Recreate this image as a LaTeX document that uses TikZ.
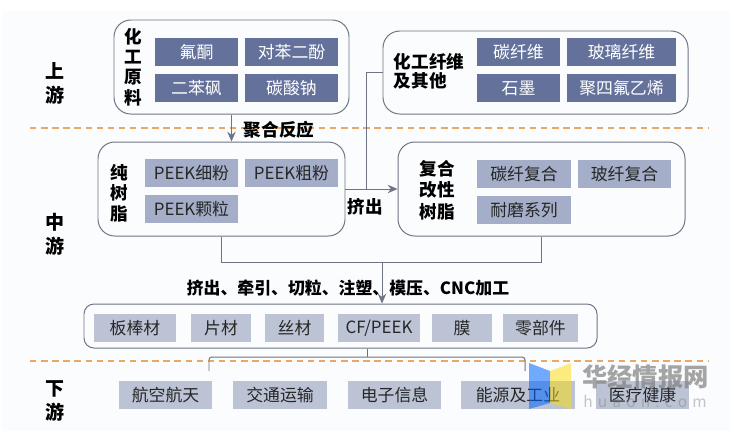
\documentclass[tikz,border=0pt]{standalone}
\usepackage{fontspec}
\usepackage{xcolor}
\setmainfont{Noto Sans CJK SC}
\newfontfamily\wmfont{Noto Sans CJK SC}
\usetikzlibrary{arrows.meta}
\definecolor{darkfill}{HTML}{64719B}
\definecolor{midfill}{HTML}{A4AEC8}
\definecolor{lightfill}{HTML}{BBC3D5}
\definecolor{edgegray}{HTML}{6E7484}
\definecolor{dashorange}{HTML}{E8A868}
\definecolor{bgpale}{HTML}{FBFCFE}
\tikzset{
boxw/.style={minimum width=#1*0.025cm},
boxh/.style={minimum height=#1*0.025cm},
panel/.style={draw=edgegray,line width=0.7pt,rounded corners=0.42cm,inner sep=0pt},
item/.style={inner sep=0pt,minimum height=0.7cm,font=\fontsize{12}{14}\selectfont},
darkitem/.style={item,fill=darkfill,text=white},
miditem/.style={item,fill=midfill,text=black!85},
lightitem/.style={item,fill=lightfill,text=black!85},
head/.style={font=\fontsize{12.5}{14.5}\bfseries\selectfont,align=center,inner sep=0pt},
stage/.style={font=\fontsize{13.5}{17}\bfseries\selectfont,align=center,inner sep=0pt},
link/.style={draw=edgegray,line width=0.7pt},
sep/.style={draw=dashorange,line width=1.1pt,dash pattern=on 4.6pt off 3.3pt}
}
\begin{document}
\begin{tikzpicture}[x=0.025cm,y=-0.025cm,>={Stealth[length=7pt,width=6pt]}]
\useasboundingbox (0,0) rectangle (734,443);
\fill[bgpale](2,11)rectangle(730,431);
% dashed lines
\coordinate (sepa) at (30,128);
\coordinate (sepb) at (709,128);
\coordinate (sepc) at (30,361);
\coordinate (sepd) at (709,361);
\draw[sep](sepa)--(sepb);
\draw[sep](sepc)--(sepd);
% stage labels
\node[stage] (shang) at (55,83) {上\\游};
\node[stage] (zhong) at (55,234) {中\\游};
\node[stage] (xia) at (55,401) {下\\游};
% upstream
\node[panel,boxw=235,boxh=94] (yuanliao) at (231.5,67) {};
\node[head] (yuanliaot) at (133,67) {化\\工\\原\\料};
\node[darkitem,boxw=83] (futong) at (196.5,52) {氟酮};
\node[darkitem,boxw=93] (benfen) at (291.5,52) {对苯二酚};
\node[darkitem,boxw=83] (benfeng) at (196.5,88) {二苯砜};
\node[darkitem,boxw=93] (suanna) at (291.5,88) {碳酸钠};
\node[panel,boxw=305,boxh=83] (xianwei) at (535.5,72.5) {};
\node[head,align=left,font=\fontsize{12.5}{13.5}\bfseries\selectfont] (xianweit) at (429,71) {化工纤维\\及其他};
\node[darkitem,boxw=83] (tanxian) at (518.5,52) {碳纤维};
\node[darkitem,boxw=109] (boli) at (621.5,52) {玻璃纤维};
\node[darkitem,boxw=83] (shimo) at (518.5,88) {石墨};
\node[darkitem,boxw=109] (jusi) at (621.5,88) {聚四氟乙烯};
% midstream
\node[panel,boxw=247,boxh=94] (chunzhi) at (221.5,189) {};
\node[head] (chunzhit) at (119,193) {纯\\树\\脂};
\node[miditem,boxw=93] (xifen) at (191.5,173) {PEEK细粉};
\node[miditem,boxw=93] (cufen) at (291.5,173) {PEEK粗粉};
\node[miditem,boxw=93] (keli) at (191.5,209) {PEEK颗粒};
\node[panel,boxw=287,boxh=94] (fuhe) at (541.5,189) {};
\node[head,font=\fontsize{12.5}{15.3}\bfseries\selectfont] (fuhet) at (437,190) {复合\\改性\\树脂};
\node[miditem,boxw=94] (tanfu) at (524,174) {碳纤复合};
\node[miditem,boxw=93] (bofu) at (624.5,174) {玻纤复合};
\node[miditem,boxw=94] (naimo) at (524,210) {耐磨系列};
\node[head] (juhe) at (279,130) {聚合反应};
\node[head] (jichu) at (365,207) {挤出};
\node[head,font=\fontsize{12}{14}\bfseries\selectfont] (gongyi) at (348,288) {挤出、牵引、切粒、注塑、模压、CNC加工};
% products
\node[panel,boxw=513,boxh=44,rounded corners=0.25cm] (chanpin) at (340.5,326) {};
\node[lightitem,boxw=82] (banbang) at (135,328) {板棒材};
\node[lightitem,boxw=60] (pian) at (221,328) {片材};
\node[lightitem,boxw=59] (si) at (294.5,328) {丝材};
\node[lightitem,boxw=82] (cfpeek) at (379,328) {CF/PEEK};
\node[lightitem,boxw=60] (mo) at (462,328) {膜};
\node[lightitem,boxw=75] (lingbu) at (540.5,328) {零部件};
% downstream
\node[lightitem,boxw=93] (hangkong) at (165.5,395) {航空航天};
\node[lightitem,boxw=94] (jiaotong) at (280,395) {交通运输};
\node[lightitem,boxw=93] (dianzi) at (394.5,395) {电子信息};
\node[lightitem,boxw=114] (nengyuan) at (518,395) {能源及工业};
\node[lightitem,boxw=93] (yiliao) at (642.5,395) {医疗健康};
% connectors
\coordinate (jiao) at (366,189);
\coordinate (hui) at (382,262);
\coordinate (fen) at (367,357);
\coordinate (zuo) at (209,371);
\coordinate (you) at (525,371);
\draw[link,->](yuanliao.south)--(yuanliao.south |- chunzhi.north);
\draw[link,->](chunzhi.east)--(fuhe.west);
\draw[link](jiao)|-(xianwei.west);
\draw[link](chunzhi.south)|-(hui)-|(fuhe.south);
\draw[link,->](hui)--(hui |- chanpin.north);
\draw[link](fen |- chanpin.south)--(fen);
\draw[link,rounded corners=2pt](zuo)|-(fen)-|(you);
% watermark
\fill[blue!60!cyan,opacity=0.55](529,363)--(550,371)--(550,403)--(529,409)--cycle;
\fill[yellow!80!orange,opacity=0.5](571,363)--(550,371)--(550,403)--(571,409)--cycle;
\node[font=\wmfont\fontsize{18}{20}\bfseries\selectfont,text=gray,opacity=0.7,inner sep=0pt] (huajing) at (645.5,377) {华经情报网};
\node[font=\wmfont\fontsize{11}{12}\selectfont,text=gray,opacity=0.45,inner sep=0pt] (huaon) at (645,401) {h\,\,u\,\,a\,\,o\,\,n\,\,.\,\,c\,\,o\,\,m};
\end{tikzpicture}
\end{document}
